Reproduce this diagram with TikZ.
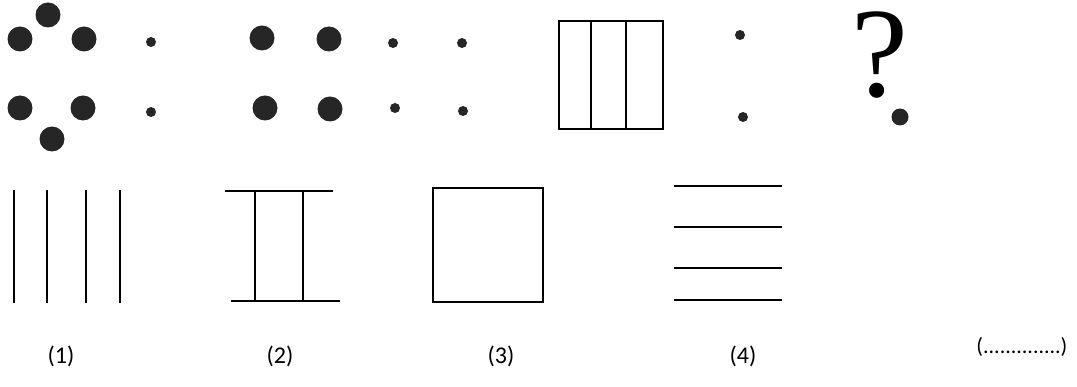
\documentclass[tikz,border=0pt]{standalone}
\usepackage{fontspec}
\newfontfamily\labfont{Carlito}
\newfontfamily\qfont{Liberation Serif}
\begin{document}
\begin{tikzpicture}[x=1pt,y=-1pt,line width=2.6pt]
  \useasboundingbox (0,0) rectangle (1077,387);
  % top row: dots
  \foreach \x/\y in {48/15,20/39,84/39,20/108,83/108,52/139,262/38,329/39,265/108,330/109}
    \fill[black!85] (\x,\y) circle (12.5);
  \foreach \x/\y in {151/42,151/112,393/43,462/43,395/108,463/111,740/35,743/117}
    \fill[black!85] (\x,\y) circle (5);
  % top row: box with three strips
  \draw (559,21) rectangle (663,129);
  \draw (591,21)--(591,129) (626,21)--(626,129);
  % question mark
  \node[anchor=base,inner sep=0pt,text height=84pt,text depth=0pt] (qm) at (880,97)
    {\qfont\fontsize{128}{128}\selectfont ?};
  \fill[black!85] (900,117) circle (8.5);
  % bottom row: options
  \foreach \x in {14,47,86,120}
    \draw (\x,190)--(\x,303);
  \draw (225,191)--(333,191) (231,301)--(340,301);
  \draw (255,191)--(255,301) (303,191)--(303,301);
  \draw (433,188) rectangle (543,302);
  \foreach \y in {186,227,268,300}
    \draw (674,\y)--(782,\y);
  \foreach \x/\lab in {61/1,280/2,501/3,743/4}
    \node[font=\labfont\fontsize{24}{26}\selectfont] (opt\lab) at (\x,356) {(\lab)};
  \node[font=\labfont\fontsize{22}{24}\selectfont] (ans) at (1022,347) {(..............)};
\end{tikzpicture}
\end{document}
